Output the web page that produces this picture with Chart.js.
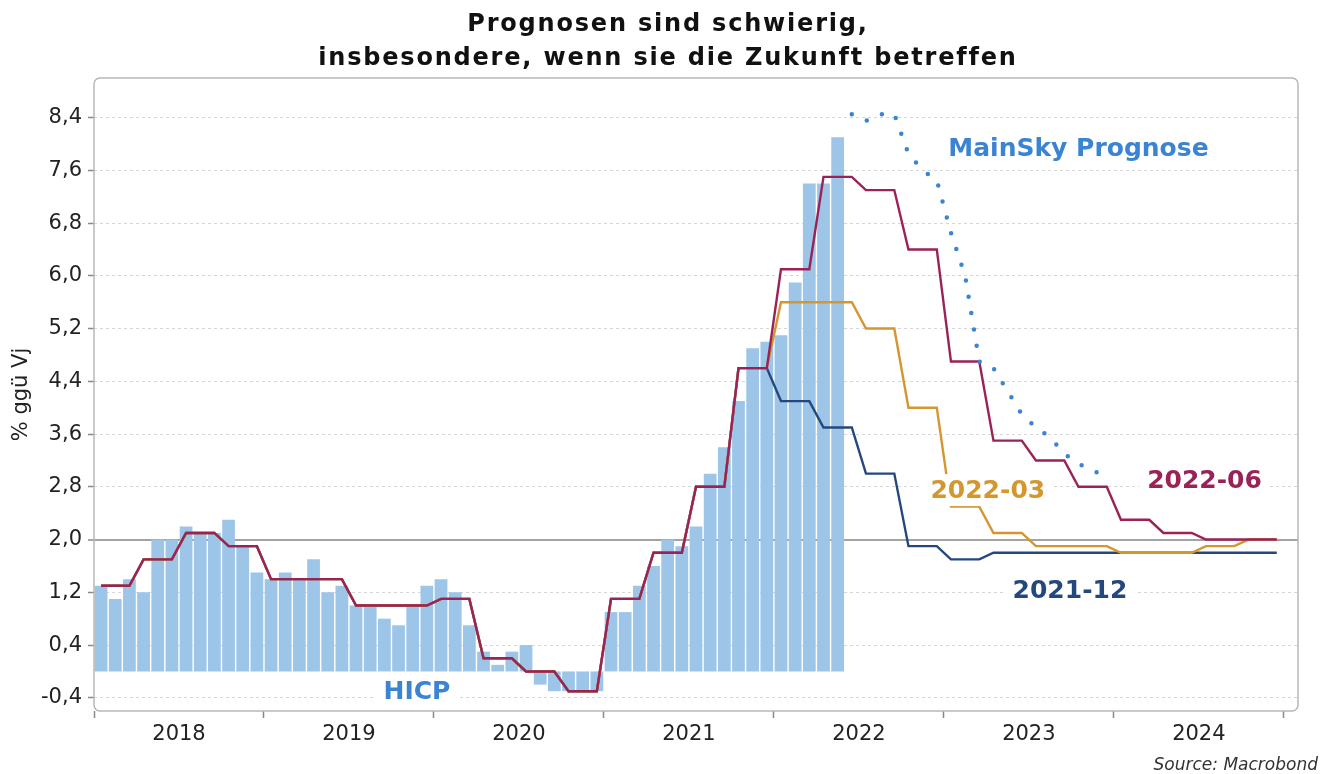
<!DOCTYPE html>
<html lang="de">
<head>
<meta charset="utf-8">
<title>Prognosen sind schwierig</title>
<script src="https://cdn.jsdelivr.net/npm/chart.js@4.4.1/dist/chart.umd.min.js"></script>
<style>
  html, body { margin: 0; padding: 0; background: #fff; }
  #wrap { width: 1333px; height: 774px; position: relative; }
</style>
</head>
<body>
<div id="wrap"><canvas id="chart"></canvas></div>
<script>
const years = ['2018', '2019', '2020', '2021', '2022', '2023', '2024']

// HICP, % ggü Vj, monthly Jan 2018 - May 2022
const hicp = [
  1.3, 1.1, 1.4, 1.2, 2.0, 2.0, 2.2, 2.1, 2.1, 2.3, 1.9, 1.5,
  1.4, 1.5, 1.4, 1.7, 1.2, 1.3, 1.0, 1.0, 0.8, 0.7, 1.0, 1.3,
  1.4, 1.2, 0.7, 0.3, 0.1, 0.3, 0.4, -0.2, -0.3, -0.3, -0.3, -0.3,
  0.9, 0.9, 1.3, 1.6, 2.0, 1.9, 2.2, 3.0, 3.4, 4.1, 4.9, 5.0,
  5.1, 5.9, 7.4, 7.4, 8.1,
]

// quarterly averages 2018 Q1 - 2021 Q4 (shared by all projection lines)
const hicpQuarterly = [
  1.3, 1.7, 2.1, 1.9,
  1.4, 1.4, 1.0, 1.0,
  1.1, 0.2, 0.0, -0.3,
  1.1, 1.8, 2.8, 4.6,
]

// projections, quarterly 2022 Q1 - 2024 Q4
const proj202112 = [4.1, 3.7, 3.0, 1.9, 1.7, 1.8, 1.8, 1.8, 1.8, 1.8, 1.8, 1.8]
const proj202203 = [5.6, 5.6, 5.2, 4.0, 2.5, 2.1, 1.9, 1.9, 1.8, 1.8, 1.9, 2.0]
const proj202206 = [6.1, 7.5, 7.3, 6.4, 4.7, 3.5, 3.2, 2.8, 2.3, 2.1, 2.0, 2.0]

// MainSky forecast, monthly Jun 2022 - Dec 2023
const mainSkyStart = 53
const mainSky = [
  8.45, 8.35, 8.45, 8.45, 7.85, 7.6, 7.45,
  6.65, 6.0, 4.7, 4.6, 4.25, 3.9, 3.7, 3.55, 3.3, 3.15, 3.05, 2.95,
]

const yTicks = [
  -0.4, 0, 0.4, 0.8, 1.2, 1.6, 2.0, 2.4, 2.8, 3.2, 3.6, 4.0,
  4.4, 4.8, 5.2, 5.6, 6.0, 6.4, 6.8, 7.2, 7.6, 8.0, 8.4, 8.8,
]
const yLabelled = [-0.4, 0.4, 1.2, 2.0, 2.8, 3.6, 4.4, 5.2, 6.0, 6.8, 7.6, 8.4]
const xTicks = [0, 6, 12, 18, 24, 30, 36, 42, 48, 54, 60, 66, 72, 78, 84]

const FONT = "'DejaVu Sans', Verdana, sans-serif"
const BLUE = '#3a84d2'
const RED = '#9b2257'
const GOLD = '#d4962f'
const NAVY = '#24487e'

// labels placed in data coordinates
const notes = [
  { text: 'MainSky Prognose', x: 69.5, y: 7.93, color: BLUE },
  { text: '2022-06', x: 78.4, y: 2.9, color: RED },
  { text: '2022-03', x: 63.1, y: 2.75, color: GOLD },
  { text: '2021-12', x: 68.9, y: 1.23, color: NAVY },
  { text: 'HICP', x: 22.8, y: -0.31, color: BLUE },
]

const monthly = q => q.flatMap(v => [v, v, v])
const toPoints = (vals, start) => vals.map((v, i) => ({ x: start + i + 0.5, y: v }))
const history = monthly(hicpQuarterly)
const projLine = p => toPoints(history.concat(monthly(p)), 0)

const same = (a, b) => Math.abs(a - b) < 1e-6

const decor = {
  id: 'decor',
  afterDatasetsDraw(chart) {
    const { ctx, scales } = chart
    ctx.save()
    ctx.font = 'bold 25px ' + FONT
    ctx.textAlign = 'center'
    ctx.textBaseline = 'middle'
    notes.forEach(n => {
      const px = scales.x.getPixelForValue(n.x)
      const py = scales.y.getPixelForValue(n.y)
      const w = ctx.measureText(n.text).width
      ctx.fillStyle = '#fff'
      ctx.fillRect(px - w / 2 - 8, py - 16, w + 16, 32)
      ctx.fillStyle = n.color
      ctx.fillText(n.text, px, py + 1)
    })
    ctx.restore()
  },
  afterDraw(chart) {
    const { ctx, chartArea: a } = chart
    ctx.save()
    // plot frame
    ctx.strokeStyle = '#b8b8b8'
    ctx.lineWidth = 1.5
    ctx.beginPath()
    ctx.roundRect(a.left, a.top, a.right - a.left, a.bottom - a.top, 6)
    ctx.stroke()
    // title
    ctx.fillStyle = '#111'
    ctx.font = 'bold 24px ' + FONT
    ctx.textAlign = 'center'
    ctx.textBaseline = 'alphabetic'
    if ('letterSpacing' in ctx) ctx.letterSpacing = '1.8px'
    ctx.fillText('Prognosen sind schwierig,', 668, 31)
    ctx.fillText('insbesondere, wenn sie die Zukunft betreffen', 668, 65)
    if ('letterSpacing' in ctx) ctx.letterSpacing = '0px'
    // source
    ctx.fillStyle = '#333'
    ctx.font = 'italic 17px ' + FONT
    ctx.textAlign = 'right'
    ctx.fillText('Source: Macrobond', 1318, 770)
    ctx.restore()
  },
}

Chart.defaults.font.family = FONT
Chart.defaults.color = '#222'

new Chart(document.getElementById('chart'), {
  type: 'bar',
  data: {
    datasets: [
      {
        type: 'line',
        label: 'MainSky Prognose',
        data: toPoints(mainSky, mainSkyStart),
        borderColor: BLUE,
        borderWidth: 4.5,
        borderDash: [0, 16.5],
        borderCapStyle: 'round',
        pointRadius: 0,
        tension: 0,
        order: 1,
      },
      {
        type: 'line',
        label: '2022-06',
        data: projLine(proj202206),
        borderColor: RED,
        borderWidth: 2.4,
        pointRadius: 0,
        tension: 0,
        order: 2,
      },
      {
        type: 'line',
        label: '2022-03',
        data: projLine(proj202203),
        borderColor: GOLD,
        borderWidth: 2.4,
        pointRadius: 0,
        tension: 0,
        order: 3,
      },
      {
        type: 'line',
        label: '2021-12',
        data: projLine(proj202112),
        borderColor: NAVY,
        borderWidth: 2.4,
        pointRadius: 0,
        tension: 0,
        order: 4,
      },
      {
        label: 'HICP',
        data: toPoints(hicp, 0),
        backgroundColor: '#9dc5e8',
        borderWidth: 0,
        barPercentage: 0.9,
        categoryPercentage: 1,
        order: 5,
      },
    ],
  },
  options: {
    responsive: true,
    maintainAspectRatio: false,
    animation: false,
    layout: { padding: { top: 78, right: 35, left: 0, bottom: 0 } },
    plugins: {
      legend: { display: false },
      tooltip: { enabled: false },
    },
    scales: {
      x: {
        type: 'linear',
        min: 0,
        max: 85,
        offset: false,
        afterBuildTicks: axis => {
          axis.ticks = xTicks.map(v => ({ value: v }))
        },
        afterFit: axis => {
          axis.height = 63
        },
        grid: {
          offset: false,
          drawOnChartArea: false,
          tickLength: 7,
          tickWidth: 1.5,
          tickColor: ctx => (ctx.tick && ctx.tick.value % 12 === 0 ? '#888' : 'rgba(0,0,0,0)'),
        },
        border: { display: false },
        ticks: {
          autoSkip: false,
          maxRotation: 0,
          padding: 4,
          font: { size: 21 },
          color: '#222',
          callback: v => (v % 12 === 6 ? years[(v - 6) / 12] : ''),
        },
      },
      y: {
        min: -0.6,
        max: 9.0,
        afterBuildTicks: axis => {
          axis.ticks = yTicks.map(v => ({ value: v }))
        },
        afterFit: axis => {
          axis.width = 94
        },
        grid: {
          color: ctx => (ctx.tick && same(ctx.tick.value, 2) ? '#a3a3a3' : '#d6d6d6'),
          lineWidth: ctx => (ctx.tick && same(ctx.tick.value, 2) ? 2 : 1),
          tickColor: '#888',
          tickLength: 6,
          tickWidth: 1.5,
        },
        border: {
          display: false,
          dash: ctx => (ctx.tick && same(ctx.tick.value, 2) ? [] : [3, 3]),
        },
        ticks: {
          padding: 6,
          font: { size: 21 },
          color: '#222',
          callback: v => (yLabelled.some(l => same(l, v)) ? v.toFixed(1).replace('.', ',') : ''),
        },
        title: {
          display: true,
          text: '% ggü Vj',
          font: { size: 21 },
          color: '#222',
          padding: { top: 9, bottom: 0 },
        },
      },
    },
  },
  plugins: [decor],
})
</script>
</body>
</html>
